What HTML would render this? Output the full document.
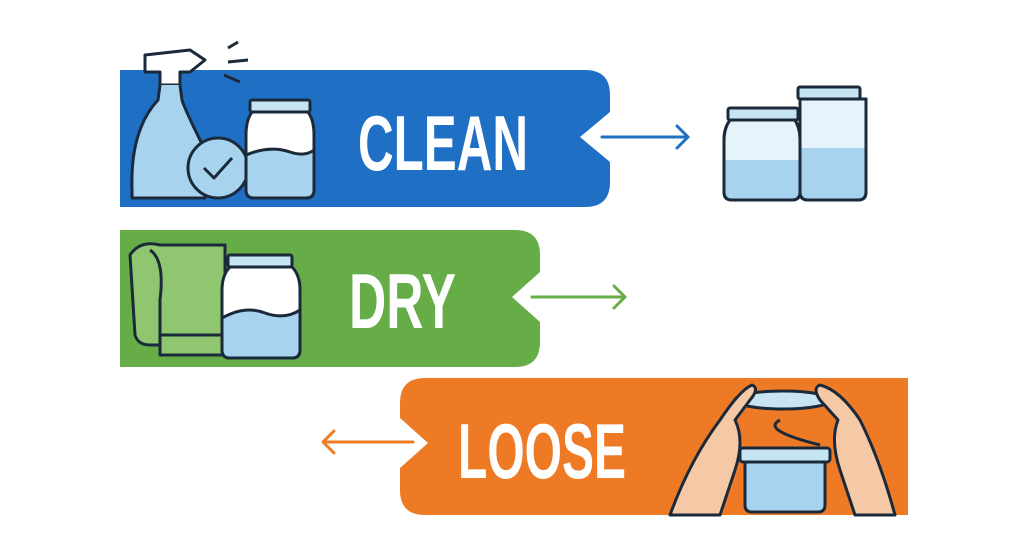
<!DOCTYPE html>
<html><head><meta charset="utf-8"><style>
html,body{margin:0;padding:0;background:#fff;}
svg{display:block}
text{font-family:"Liberation Sans Narrow","Liberation Sans",sans-serif;font-weight:bold;fill:#fff}
</style></head><body>
<svg width="1024" height="559" viewBox="0 0 1024 559" xmlns="http://www.w3.org/2000/svg">
<!-- Blue banner -->
<path d="M120 70 H585 Q610 70 610 95 V112 L580 137 L610 162 V182 Q610 207 585 207 H120 Z" fill="#1f6fc5"/>
<!-- Green banner -->
<path d="M120 230 H515 Q540 230 540 255 V272 L512 297 L540 322 V342 Q540 367 515 367 H120 Z" fill="#66ad48"/>
<!-- Orange banner -->
<path d="M908 378 H425 Q400 378 400 403 V418 L428 443 L400 468 V490 Q400 515 425 515 H908 Z" fill="#ef7a26"/>

<text x="358" y="170" font-size="78" textLength="170" lengthAdjust="spacingAndGlyphs">CLEAN</text>
<text x="349" y="328" font-size="78" textLength="107" lengthAdjust="spacingAndGlyphs">DRY</text>
<text x="458" y="478" font-size="78" textLength="168" lengthAdjust="spacingAndGlyphs">LOOSE</text>

<!-- arrows -->
<g fill="none" stroke-width="3" stroke-linecap="round" stroke-linejoin="round">
<path d="M602 137 H688 M677 126 L688 137 L677 148" stroke="#1f6fc5"/>
<path d="M532 297 H625 M614 286 L625 297 L614 308" stroke="#66ad48"/>
<path d="M413 442 H323 M334 431 L323 442 L334 453" stroke="#ef7a26"/>
</g>

<!-- Spray bottle -->
<g stroke="#1b2a3a" stroke-width="3" fill="none" stroke-linejoin="round">
<path d="M145 55 L190 50 L205 60 L190 72 L180 72 L180 85 L160 85 L160 72 L145 72 Z" fill="#fff"/>
<path d="M160 85 L158 100 Q130 130 132 190 L132 198 L205 198 L205 150 Q185 110 182 100 L180 85" fill="#a7d3ef"/>
<path d="M228 48 L238 42 M228 62 L248 60 M224 75 L240 82"/>
<circle cx="218" cy="168" r="30" fill="#a7d3ef"/>
<path d="M204 168 L214 178 L232 158"/>
<rect x="250" y="100" width="60" height="12" rx="2" fill="#c7e4f3"/>
<path d="M252 112 Q246 120 246 135 V190 Q246 198 254 198 H306 Q314 198 314 190 V135 Q314 120 308 112 Z" fill="#fff"/>
<path d="M246 155 Q270 145 290 152 Q305 157 314 150 V190 Q314 198 306 198 H254 Q246 198 246 190 Z" fill="#a7d3ef"/>
</g>

<!-- towel and jar (green) -->
<g stroke="#1b2a3a" stroke-width="3" fill="none" stroke-linejoin="round">
<path d="M130 255 Q140 240 160 245 H225 V345 H150 Q138 345 135 335 Z" fill="#8fc66f"/>
<path d="M150 250 Q165 260 160 300 V345" />
<path d="M160 335 H225 V355 H160 Z" fill="#8fc66f"/>
<rect x="228" y="255" width="64" height="12" rx="2" fill="#c7e4f3"/>
<path d="M230 267 Q222 275 222 290 V350 Q222 358 230 358 H292 Q300 358 300 350 V290 Q300 275 292 267 Z" fill="#fff"/>
<path d="M222 318 Q245 305 265 313 Q285 320 300 310 V350 Q300 358 292 358 H230 Q222 358 222 350 Z" fill="#a7d3ef"/>
</g>

<!-- jars right -->
<g stroke="#1b2a3a" stroke-width="3" fill="none" stroke-linejoin="round">
<rect x="798" y="87" width="62" height="12" rx="2" fill="#c7e4f3"/>
<path d="M800 99 V192 Q800 200 808 200 H858 Q866 200 866 192 V99 Z" fill="#e6f3fb"/>
<path d="M800 148 H866 V192 Q866 200 858 200 H808 Q800 200 800 192 Z" fill="#a7d3ef" stroke="none"/>
<path d="M800 99 V192 Q800 200 808 200 H858 Q866 200 866 192 V99 Z"/>
<rect x="728" y="108" width="70" height="12" rx="2" fill="#c7e4f3"/>
<path d="M730 120 Q724 128 724 140 V192 Q724 200 732 200 H792 Q800 200 800 192 V140 Q800 128 795 120 Z" fill="#e6f3fb"/>
<path d="M724 160 H800 V192 Q800 200 792 200 H732 Q724 200 724 192 Z" fill="#a7d3ef" stroke="none"/>
<path d="M730 120 Q724 128 724 140 V192 Q724 200 732 200 H792 Q800 200 800 192 V140 Q800 128 795 120 Z"/>
</g>

<!-- hands with lid -->
<g stroke="#1b2a3a" stroke-width="3" fill="none" stroke-linejoin="round">
<path d="M745 460 H825 V505 Q825 512 818 512 H752 Q745 512 745 505 Z" fill="#a7d3ef"/>
<rect x="740" y="448" width="90" height="14" rx="3" fill="#c7e4f3"/>
<path d="M780 420 Q760 430 820 445" />
<ellipse cx="783" cy="400" rx="48" ry="9" fill="#c7e4f3"/>
<path d="M670 515 Q690 460 720 420 Q740 390 752 385 Q760 388 750 400 L735 420 Q745 440 735 470 L720 515 Z" fill="#f6c9a6"/>
<path d="M895 515 Q880 460 860 420 Q840 390 820 385 Q812 388 820 400 L838 420 Q830 440 840 470 L855 515 Z" fill="#f6c9a6"/>
</g>
</svg>
</body></html>
